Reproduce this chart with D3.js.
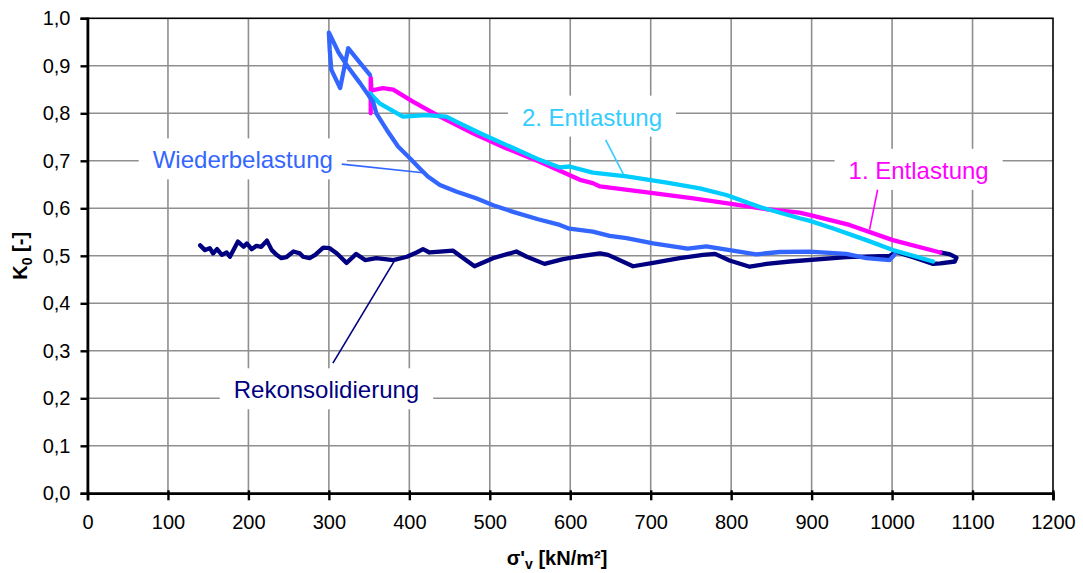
<!DOCTYPE html>
<html>
<head>
<meta charset="utf-8">
<script src="https://cdn.jsdelivr.net/npm/d3@7"></script>
<style>
body { margin: 0; background: #fff; }
text { font-family: "Liberation Sans", Arial, sans-serif; }
</style>
</head>
<body>
<div id="chart"></div>
<script>
// axis ticks
var xTicks = [0, 100, 200, 300, 400, 500, 600, 700, 800, 900, 1000, 1100, 1200];
var yTicks = [0, 0.1, 0.2, 0.3, 0.4, 0.5, 0.6, 0.7, 0.8, 0.9, 1.0];

// Rekonsolidierung  [sigma'v, K0]
var rekonsolidierung = [[140,0.522],[146,0.512],[152,0.516],[156,0.505],[161,0.514],[167,0.502],[173,0.507],[177,0.498],
    [187,0.530],[194,0.519],[198,0.526],[204,0.514],[210,0.521],[216,0.519],[223,0.532],[229,0.512],[235,0.502],
    [241,0.495],[247,0.497],[256,0.509],[264,0.505],[268,0.498],[276,0.495],[283,0.502],[293,0.517],[301,0.516],
    [310,0.505],[322,0.485],[334,0.504],[345,0.491],[359,0.495],[380,0.491],[397,0.498],[409,0.507],[417,0.514],
    [425,0.507],[438,0.509],[454,0.511],[481,0.478],[504,0.495],[533,0.509],[546,0.498],[568,0.483],[591,0.493],
    [608,0.498],[637,0.505],[647,0.502],[678,0.478],[703,0.485],[736,0.495],[765,0.502],[780,0.504],[798,0.490],
    [823,0.477],[844,0.483],[873,0.488],[943,0.497],[997,0.500],[1005,0.508],[1030,0.495],[1051,0.483],
    [1060,0.484],[1078,0.488],[1080,0.496],[1072,0.503],[1060,0.507]];

// 1. Entlastung
var entlastung1 = [[1060,0.507],[1001,0.533],[947,0.565],[897,0.586],[885,0.591],[844,0.598],[802,0.609],
    [753,0.621],[703,0.632],[637,0.646],[628,0.653],[612,0.660],[587,0.679],[562,0.698],[521,0.726],[479,0.758],
    [438,0.793],[405,0.824],[380,0.850],[367,0.853],[353,0.848],[352,0.875],[352,0.800]];

// 2. Entlastung
var entlastung2 = [[1051,0.488],[1001,0.512],[968,0.533],[926,0.558],[897,0.574],[885,0.579],[835,0.603],
    [794,0.628],[761,0.642],[720,0.654],[670,0.667],[628,0.675],[599,0.688],[587,0.686],[562,0.702],[521,0.733],
    [488,0.758],[459,0.782],[446,0.793],[421,0.796],[392,0.793],[363,0.821],[351,0.842]];

// Wiederbelastung
var wiederbelastung = [[351,0.881],[337,0.910],[324,0.937],[314,0.853],[303,0.892],[301,0.935],[300,0.970],
    [312,0.928],[324,0.897],[339,0.863],[355,0.824],[359,0.800],[372,0.765],[386,0.730],[401,0.705],[413,0.684],
    [423,0.667],[438,0.649],[459,0.635],[483,0.621],[505,0.606],[530,0.592],[560,0.577],[587,0.565],[599,0.557],
    [628,0.551],[649,0.542],[670,0.537],[703,0.526],[746,0.515],[769,0.520],[802,0.511],[831,0.503],[860,0.508],
    [897,0.509],[943,0.504],[968,0.495],[997,0.491],[1003,0.502]];

var width = 1083, height = 573;
var margin = {top: 18.3, right: 30, bottom: 79.7, left: 87.5};
var plotW = width - margin.left - margin.right;
var plotH = height - margin.top - margin.bottom;

var svg = d3.select("#chart").append("svg")
    .attr("width", width)
    .attr("height", height);

var g = svg.append("g").attr("transform", "translate(" + margin.left + "," + margin.top + ")");

var x = d3.scaleLinear().domain([0, 1200]).range([0, plotW]);
var y = d3.scaleLinear().domain([0, 1]).range([plotH, 0]);

var fmtY = function(d) { return d3.format(".1f")(d).replace(".", ","); };

// gridlines
g.append("g").selectAll("line").data(xTicks.slice(1, -1)).enter().append("line")
    .attr("x1", function(d) { return x(d); }).attr("x2", function(d) { return x(d); })
    .attr("y1", 0).attr("y2", plotH)
    .style("stroke", "#8f8f8f").style("stroke-width", 1.6);
g.append("g").selectAll("line").data(yTicks.slice(1, -1)).enter().append("line")
    .attr("x1", 0).attr("x2", plotW)
    .attr("y1", function(d) { return y(d); }).attr("y2", function(d) { return y(d); })
    .style("stroke", "#8f8f8f").style("stroke-width", 1.6);

// frame
g.append("rect").attr("x", 0).attr("y", 0).attr("width", plotW).attr("height", plotH)
    .style("fill", "none").style("stroke", "#000").style("stroke-width", 1.6);

// axes
var xAxis = g.append("g").attr("transform", "translate(0," + plotH + ")")
    .call(d3.axisBottom(x).tickValues(xTicks).tickSize(7).tickPadding(15).tickFormat(d3.format("d")));
var yAxis = g.append("g")
    .call(d3.axisLeft(y).tickValues(yTicks).tickSize(7).tickPadding(10).tickFormat(fmtY));
[xAxis, yAxis].forEach(function(a) {
    a.select(".domain").style("stroke", "#000").style("stroke-width", 2.6);
    a.selectAll(".tick line").style("stroke", "#000").style("stroke-width", 2.4);
    a.selectAll(".tick text").style("font-family", "'Liberation Sans', Arial, sans-serif")
        .style("font-size", "20px").style("fill", "#000");
});
xAxis.selectAll(".tick line").attr("y1", -3);

// labels with white boxes and leader lines
var labels = [
    {text: "Wiederbelastung", color: "#3366FF", lx: 193, ly: 0.684, from: [316, 0.693], to: [417, 0.675]},
    {text: "Rekonsolidierung", color: "#000080", lx: 297, ly: 0.200, from: [305, 0.274], to: [382, 0.491]},
    {text: "2. Entlastung", color: "#33CCFF", lx: 627, ly: 0.774, from: [644, 0.744], to: [666, 0.672]},
    {text: "1. Entlastung", color: "#FF00FF", lx: 1033, ly: 0.662, from: [982, 0.639], to: [972, 0.555]}
];

var labelG = g.append("g");
labels.forEach(function(l) {
    var grp = labelG.append("g");
    var rect = grp.append("rect").style("fill", "#fff");
    var t = grp.append("text")
        .attr("x", x(l.lx)).attr("y", y(l.ly))
        .attr("text-anchor", "middle")
        .style("font-size", "24px")
        .style("fill", l.color)
        .text(l.text);
    var bb = t.node().getBBox();
    rect.attr("x", bb.x - 14).attr("y", bb.y - 8).attr("width", bb.width + 28).attr("height", bb.height + 14);
    labelG.append("line")
        .attr("x1", x(l.from[0])).attr("y1", y(l.from[1]))
        .attr("x2", x(l.to[0])).attr("y2", y(l.to[1]))
        .style("stroke", l.color).style("stroke-width", 1.6);
});

// series lines
var line = d3.line().x(function(d) { return x(d[0]); }).y(function(d) { return y(d[1]); });
var series = [
    {data: rekonsolidierung, color: "#000080"},
    {data: entlastung1, color: "#FF00FF"},
    {data: entlastung2, color: "#00CCFF"},
    {data: wiederbelastung, color: "#3366FF"}
];
series.forEach(function(s) {
    g.append("path").datum(s.data)
        .attr("d", line)
        .style("fill", "none")
        .style("stroke", s.color)
        .style("stroke-width", 4.3)
        .style("stroke-linejoin", "round")
        .style("stroke-linecap", "round");
});

// axis titles
var yTitle = svg.append("text")
    .attr("transform", "translate(27," + (margin.top + plotH / 2) + ") rotate(-90)")
    .attr("text-anchor", "middle")
    .style("font-size", "20px").style("font-weight", "bold");
yTitle.append("tspan").text("K");
yTitle.append("tspan").attr("dy", 5).style("font-size", "14px").text("0");
yTitle.append("tspan").attr("dy", -5).text(" [-]");

var xTitle = svg.append("text")
    .attr("x", 557).attr("y", 565)
    .attr("text-anchor", "middle")
    .style("font-size", "20px").style("font-weight", "bold");
xTitle.append("tspan").text("σ'");
xTitle.append("tspan").attr("dy", 4).style("font-size", "14px").text("v");
xTitle.append("tspan").attr("dy", -4).text(" [kN/m²]");
</script>
</body>
</html>
